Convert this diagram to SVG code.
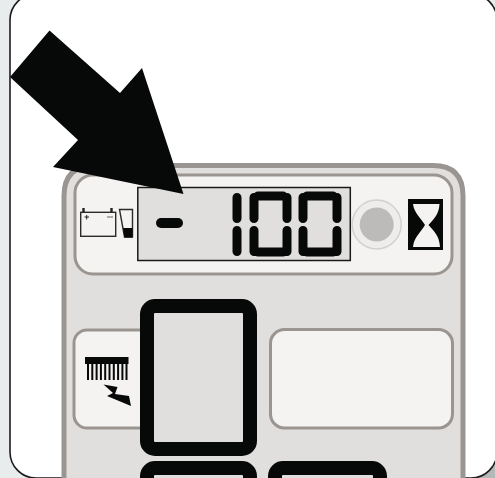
<svg xmlns="http://www.w3.org/2000/svg" width="495" height="478" viewBox="0 0 495 478">
  <style>
    .btn{fill:#e0dfdd;stroke:#070909;stroke-width:14}
    .box{fill:#f4f3f1;stroke:#9a9591;stroke-width:3}
    .seg{stroke:#070909;stroke-linecap:round;fill:none;stroke-width:9}
    .dash{stroke:#070909;stroke-linecap:round;fill:none;stroke-width:10}
    .ico{fill:none;stroke:#2a2a2a;stroke-width:1.4}
    .k{fill:#070909}
  </style>
  <rect width="495" height="478" fill="#e9ecec"/>
  <path d="M495 455V478H470Z" fill="#b4b8b7"/>
  <g id="card"><rect x="10" y="-6" width="487" height="484" rx="26" fill="#fff" stroke="#1c1c1c" stroke-width="1.6"/></g>
  <g id="device">
    <path d="M64 482V196Q64 165.500 95 165.500H433Q463 165.500 463 196V482Z" fill="#e0dfdd" stroke="#9a9591" stroke-width="5"/>
  </g>
  <g id="status-panel">
    <rect x="75" y="175" width="377" height="99" rx="18" class="box"/>
  </g>
  <g id="battery-icon">
    <rect x="80.700" y="212.300" width="35" height="24" class="ico"/>
    <path d="M83.500 212V208M111.500 212V208" stroke="#222" stroke-width="2.400"/>
    <path d="M84.500 217H89M86.700 215V219.500" stroke="#222" stroke-width="1"/>
    <path d="M107 217H113" stroke="#999" stroke-width="1.600"/>
    <path d="M119.500 209.500H132.500V237H124.500Z" class="ico"/>
    <path d="M123 228H132.500V237.500H124.500Z" class="k"/>
  </g>
  <g id="lcd">
    <rect x="137.800" y="187.500" width="212.500" height="73" fill="#e0dfdd" stroke="#1a1a1a" stroke-width="1.500"/>
    <path d="M161 223H178" class="dash"/>
    <path d="M237 197.500V218.500M237 230.500V251.500" class="seg"/>
    <path d="M254 197.500V218.500M254 230.500V251.500M287 197.500V218.500M287 230.500V251.500M258 196H283M258 252H283" class="seg"/>
    <path d="M303 197.500V218.500M303 230.500V251.500M337 197.500V218.500M337 230.500V251.500M307 196H333M307 252H333" class="seg"/>
  </g>
  <g id="indicator">
    <circle cx="376.700" cy="224.500" r="24.500" fill="#eeedeb" stroke="#d2d1cf" stroke-width="1.500"/>
    <circle cx="376.700" cy="224.500" r="17" fill="#bdbbb9"/>
  </g>
  <g id="hourglass">
    <rect x="408" y="199" width="35" height="51" class="k"/>
    <path d="M413 204H439.500C439 214 434 219 428.500 225C434 231 439.500 236 440 247H413C414 237 421 232 425 225C421 218 414 213 413 204Z" fill="#f4f3f1"/>
  </g>
  <g id="comb-box">
    <rect x="74" y="330" width="90" height="98" rx="13" class="box"/>
    <path d="M85 357H128.500V364H85Z" class="k"/>
    <path d="M88 362V380M92.300 362V380M96.600 362V380M100.900 362V380M105.200 362V380M109.500 362V380M113.800 362V380M118.100 362V380M122.400 362V380M126.500 362V380" stroke="#070909" stroke-width="2"/>
    <path d="M103.500 384.500L117.500 387L115 394L129 396L131 406L107 396L113 393Z" class="k"/>
  </g>
  <g id="right-box">
    <rect x="270.500" y="329.500" width="182" height="98.500" rx="14" class="box"/>
  </g>
  <g id="button-1"><rect x="147" y="306" width="103" height="143" rx="8" class="btn"/></g>
  <g id="button-2"><rect x="147" y="468" width="103" height="60" rx="8" class="btn"/></g>
  <g id="button-3"><rect x="275" y="468" width="105" height="60" rx="8" class="btn"/></g>
  <g id="connectors">
    <path d="M49.500 30.500L120 93L142 68L183.500 194L53 167L78 140L10 77Z" class="k"/>
  </g>
</svg>
